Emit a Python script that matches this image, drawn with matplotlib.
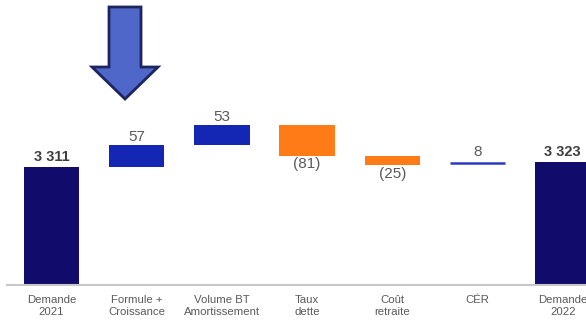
import matplotlib
matplotlib.use("Agg")
import matplotlib.pyplot as plt
from matplotlib.patches import Polygon

plt.rcParams['font.family'] = ['Liberation Sans', 'DejaVu Sans']

categories = ["Demande\n2021", "Formule +\nCroissance", "Volume BT\nAmortissement",
              "Taux\ndette", "Coût\nretraite", "CÉR", "Demande\n2022"]
start_total = 3311
changes = [57, 53, -81, -25, 8]
end_total = 3323
labels = ["3 311", "57", "53", "(81)", "(25)", "8", "3 323"]

base_value = 3000
c_total = "#110C6C"
c_up = "#1326B4"
c_down = "#FF7B17"
c_text = "#5A5A5A"
c_total_text = "#3F3F3F"

W, H = 586, 323
fig = plt.figure(figsize=(W / 100, H / 100), dpi=100)
ax = fig.add_axes([0, 38 / H, 1, 1 - 38 / H])
ax.set_xlim(-51.5 / 85.2, (W - 51.5) / 85.2)
ax.set_ylim(base_value, base_value + 285 / 0.38)
ax.axis("off")

bw = 0.65
# starting total
ax.bar(0, start_total - base_value, bottom=base_value, width=bw, color=c_total)
ax.annotate(labels[0], (0, start_total), xytext=(0, 2), textcoords="offset points",
            ha="center", va="bottom", fontsize=10.5, fontweight="bold", color=c_total_text)

running = start_total
for i, ch in enumerate(changes, start=1):
    lab = labels[i]
    if abs(ch) < 15:
        # small change drawn as a thin line
        top = running + ch
        ax.plot([i - bw / 2, i + bw / 2], [top - 3, top - 3], color="#2A3BC0", lw=1.8,
                solid_capstyle="butt")
        ax.annotate(lab, (i, top - 3), xytext=(0, 3), textcoords="offset points",
                    ha="center", va="bottom", fontsize=11, color=c_text)
    elif ch > 0:
        ax.bar(i, ch, bottom=running, width=bw, color=c_up)
        ax.annotate(lab, (i, running + ch), xytext=(0, 1), textcoords="offset points",
                    ha="center", va="bottom", fontsize=11, color=c_text)
    else:
        ax.bar(i, -ch, bottom=running + ch, width=bw, color=c_down)
        ax.annotate(lab, (i, running + ch), xytext=(0, -1), textcoords="offset points",
                    ha="center", va="top", fontsize=11, color=c_text)
    running += ch

n = len(categories) - 1
ax.bar(n, end_total - base_value, bottom=base_value, width=bw, color=c_total)
ax.annotate(labels[-1], (n, end_total), xytext=(0, 2), textcoords="offset points",
            ha="center", va="bottom", fontsize=10.5, fontweight="bold", color=c_total_text)

# baseline
ax.plot([-0.52, n + 0.6], [base_value, base_value], color="#C8C8C8", lw=1.5, clip_on=False)

# category labels
for i, c in enumerate(categories):
    ax.text(i, base_value - 27, c, ha="center", va="top", fontsize=8.2,
            color=c_text, linespacing=1.2)

# big arrow pointing at "Formule + Croissance"
pts_px = [(109, 7), (141, 7), (141, 67), (158, 67), (125, 99), (92, 67), (109, 67)]
pts = [(x / W, 1 - y / H) for x, y in pts_px]
fig.patches.append(Polygon(pts, closed=True, transform=fig.transFigure,
                           facecolor="#4F67C8", edgecolor="#1C2461", lw=2,
                           joinstyle="miter"))

fig.savefig("out.png", dpi=100)
